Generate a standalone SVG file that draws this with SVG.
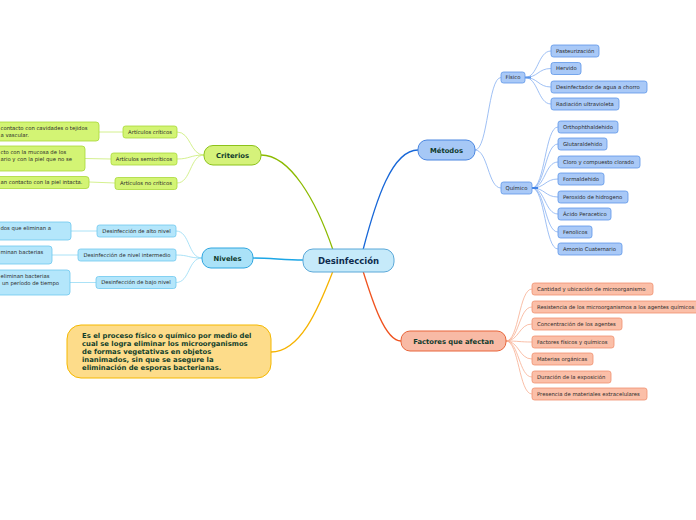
<svg xmlns="http://www.w3.org/2000/svg" width="696" height="520" viewBox="0 0 696 520">
<style>
text{font-family:"DejaVu Sans","Liberation Sans",sans-serif}
.lf{font-size:5.3px;fill:#2a2a2a}
.mt{font-size:6.8px;font-weight:bold;fill:#0f3b2c;text-anchor:middle}
.lime{fill:#d3f474;stroke:#a8d838;stroke-width:0.8}
.sky{fill:#b4e6fb;stroke:#6fc8ef;stroke-width:0.8}
.blu{fill:#a9c9f7;stroke:#5d96e8;stroke-width:0.8}
.sal{fill:#fbbfa8;stroke:#f0916f;stroke-width:0.8}
.lg{stroke:#c9ec72;stroke-width:0.8;fill:none}
.sg{stroke:#96daf5;stroke-width:0.8;fill:none}
.bg{stroke:#86b0f1;stroke-width:0.8;fill:none}
.og{stroke:#f8ae92;stroke-width:0.8;fill:none}
</style>
<rect width="696" height="520" fill="#ffffff"/>
<g id="connectors">
<path d="M363,250 C376,200 392,150 418,150" stroke="#1767d8" stroke-width="1.3" fill="none"/>
<path d="M333,250 C316,200 290,155 261,155" stroke="#8cba00" stroke-width="1.3" fill="none"/>
<path d="M303,260 C285,260 270,258 253,258" stroke="#1ca6e6" stroke-width="1.3" fill="none"/>
<path d="M333,271 C318,310 300,352 271,352" stroke="#f6b300" stroke-width="1.3" fill="none"/>
<path d="M363,271 C372,300 385,341 401,341" stroke="#f0531f" stroke-width="1.3" fill="none"/>
<path class="lg" d="M204,155 C190,155 191,132 177,132"/>
<path class="lg" d="M204,155 C190,155 190,159 177,159"/>
<path class="lg" d="M204,155 C190,155 191,183 177,183"/>
<path class="lg" d="M123,132 L99,132"/>
<path class="lg" d="M111,159 L85,158.5"/>
<path class="lg" d="M115,183 L89,182"/>
<path class="sg" d="M202,258 C188,258 190,231 176,231"/>
<path class="sg" d="M202,258 C188,258 189,255 176,255"/>
<path class="sg" d="M202,258 C188,258 190,282.5 176,282.5"/>
<path class="sg" d="M97,231 L71,231"/>
<path class="sg" d="M78,255 L52,255"/>
<path class="sg" d="M96,282.5 L70,282.5"/>
<path class="bg" d="M475,150 C488,150 488,77.5 501,77.5"/>
<path class="bg" d="M475,150 C488,150 488,188 501,188"/>
<path class="bg" d="M525,77.5 C538,77.5 538,51 551,51"/>
<path class="bg" d="M525,77.5 C538,77.5 538,68.5 551,68.5"/>
<path class="bg" d="M525,77.5 C538,77.5 538,87 551,87"/>
<path class="bg" d="M525,77.5 C538,77.5 538,104 551,104"/>
<path d="M525,77.5 L531,77.5" stroke="#5d96e8" stroke-width="2"/>
<path class="bg" d="M532,188 C545,188 545,127 558,127"/>
<path class="bg" d="M532,188 C545,188 545,144 558,144"/>
<path class="bg" d="M532,188 C545,188 545,162 558,162"/>
<path class="bg" d="M532,188 C545,188 545,179 558,179"/>
<path class="bg" d="M532,188 C545,188 545,197 558,197"/>
<path class="bg" d="M532,188 C545,188 545,214 558,214"/>
<path class="bg" d="M532,188 C545,188 545,232 558,232"/>
<path class="bg" d="M532,188 C545,188 545,249 558,249"/>
<path d="M532,188 L538,188" stroke="#3f82e6" stroke-width="2"/>
<path class="og" d="M506,341 C519,341 519,289 532,289"/>
<path class="og" d="M506,341 C519,341 519,307 532,307"/>
<path class="og" d="M506,341 C519,341 519,324 532,324"/>
<path class="og" d="M506,341 C519,341 519,342 532,342"/>
<path class="og" d="M506,341 C519,341 519,359 532,359"/>
<path class="og" d="M506,341 C519,341 519,377 532,377"/>
<path class="og" d="M506,341 C519,341 519,394 532,394"/>
</g>
<g id="n-desinfeccion"><rect x="303" y="249" width="91" height="23" rx="10" fill="#c6eafa" stroke="#5aa8d8" stroke-width="1"/><text x="348.5" y="263.8" font-size="8.5" font-weight="bold" fill="#0d2b4e" text-anchor="middle">Desinfección</text></g>
<g id="n-metodos"><rect x="418" y="140" width="57" height="20" rx="9" fill="#a6c8f6" stroke="#4a86e0" stroke-width="1"/><text class="mt" x="446.5" y="152.5">Métodos</text></g>
<g id="n-criterios"><rect x="204" y="145.5" width="57" height="19.5" rx="9" fill="#d5f27a" stroke="#8cc21a" stroke-width="1"/><text class="mt" x="232.5" y="157.8">Criterios</text></g>
<g id="n-niveles"><rect x="202" y="248" width="51" height="20" rx="9" fill="#aae2f8" stroke="#2fa6e0" stroke-width="1"/><text class="mt" x="227.5" y="260.5">Niveles</text></g>
<g id="n-factores"><rect x="401" y="331" width="105" height="20" rx="9" fill="#f8baa5" stroke="#e8653a" stroke-width="1"/><text class="mt" x="453.5" y="343.5">Factores que afectan</text></g>
<g id="n-descripcion"><rect x="67" y="325" width="204" height="53" rx="14" fill="#fddc8a" stroke="#f5b800" stroke-width="1"/>
<text font-size="6.85" font-weight="bold" fill="#123f2a"><tspan x="82" y="337.5">Es el proceso físico o químico por medio del</tspan><tspan x="82" y="345.5">cual se logra eliminar los microorganismos</tspan><tspan x="82" y="353.5">de formas vegetativas en objetos</tspan><tspan x="82" y="361.5">inanimados, sin que se asegure la</tspan><tspan x="82" y="369.5">eliminación de esporas bacterianas.</tspan></text></g>
<g id="n-criticos"><rect class="lime" x="123" y="126" width="54" height="12" rx="2.5"/><text class="lf" x="150" y="133.9" text-anchor="middle">Artículos críticos</text></g>
<g id="n-semicriticos"><rect class="lime" x="111" y="153" width="66" height="12" rx="2.5"/><text class="lf" x="144" y="160.9" text-anchor="middle">Artículos semicríticos</text></g>
<g id="n-nocriticos"><rect class="lime" x="115" y="177.5" width="62" height="12" rx="2.5"/><text class="lf" x="146" y="185.4" text-anchor="middle">Artículos no críticos</text></g>
<g id="n-criticos-leaf"><rect class="lime" x="-20" y="122" width="119" height="19" rx="3"/><text class="lf"><tspan x="0.5" y="130">contacto con cavidades o tejidos</tspan><tspan x="0.5" y="137">a vascular.</tspan></text></g>
<g id="n-semicriticos-leaf"><rect class="lime" x="-20" y="146" width="105" height="25" rx="3"/><text class="lf"><tspan x="0.5" y="154">cto con la mucosa de los</tspan><tspan x="0.5" y="161">ario y con la piel que no se</tspan></text></g>
<g id="n-nocriticos-leaf"><rect class="lime" x="-20" y="176.5" width="109" height="12" rx="3"/><text class="lf" x="0.5" y="184.4">an contacto con la piel intacta.</text></g>
<g id="n-alto"><rect class="sky" x="97" y="225" width="79" height="12" rx="2.5"/><text class="lf" x="136.5" y="232.9" text-anchor="middle">Desinfección de alto nivel</text></g>
<g id="n-intermedio"><rect class="sky" x="78" y="249" width="98" height="12" rx="2.5"/><text class="lf" x="127" y="256.9" text-anchor="middle">Desinfección de nivel intermedio</text></g>
<g id="n-bajo"><rect class="sky" x="96" y="276.5" width="80" height="12" rx="2.5"/><text class="lf" x="136" y="284.4" text-anchor="middle">Desinfección de bajo nivel</text></g>
<g id="n-alto-leaf"><rect class="sky" x="-20" y="222" width="91" height="18" rx="3"/><text class="lf" x="0.5" y="230">dos que eliminan a</text></g>
<g id="n-intermedio-leaf"><rect class="sky" x="-20" y="246" width="72" height="18" rx="3"/><text class="lf" x="0.5" y="254">minan bacterias</text></g>
<g id="n-bajo-leaf"><rect class="sky" x="-20" y="270" width="90" height="25" rx="3"/><text class="lf"><tspan x="0.5" y="278">eliminan bacterias</tspan><tspan x="2" y="285">un período de tiempo</tspan></text></g>
<g id="n-fisico"><rect class="blu" x="501" y="72" width="24" height="11" rx="2.5"/><text class="lf" x="513" y="79.4" text-anchor="middle">Físico</text></g>
<g id="n-quimico"><rect class="blu" x="501" y="182" width="31" height="12" rx="2.5"/><text class="lf" x="516.5" y="189.9" text-anchor="middle">Químico</text></g>
<g id="n-pasteurizacion"><rect class="blu" x="551" y="45" width="48" height="12" rx="2.5"/><text class="lf" x="556" y="52.9">Pasteurización</text></g>
<g id="n-hervido"><rect class="blu" x="551" y="62.5" width="30" height="12" rx="2.5"/><text class="lf" x="556" y="70.4">Hervido</text></g>
<g id="n-chorro"><rect class="blu" x="551" y="81" width="96" height="12" rx="2.5"/><text class="lf" x="556" y="88.9">Desinfectador de agua a chorro</text></g>
<g id="n-uv"><rect class="blu" x="551" y="98" width="68" height="12" rx="2.5"/><text class="lf" x="556" y="105.9">Radiación ultravioleta</text></g>
<g id="n-ortho"><rect class="blu" x="558" y="121" width="60" height="12" rx="2.5"/><text class="lf" x="563" y="128.9">Orthophthaldehido</text></g>
<g id="n-gluta"><rect class="blu" x="558" y="138" width="49" height="12" rx="2.5"/><text class="lf" x="563" y="145.9">Glutaraldehido</text></g>
<g id="n-cloro"><rect class="blu" x="558" y="156" width="82" height="12" rx="2.5"/><text class="lf" x="563" y="163.9">Cloro y compuesto clorado</text></g>
<g id="n-formal"><rect class="blu" x="558" y="173" width="46" height="12" rx="2.5"/><text class="lf" x="563" y="180.9">Formaldehido</text></g>
<g id="n-peroxido"><rect class="blu" x="558" y="191" width="70" height="12" rx="2.5"/><text class="lf" x="563" y="198.9">Peroxido de hidrogeno</text></g>
<g id="n-acido"><rect class="blu" x="558" y="208" width="53" height="12" rx="2.5"/><text class="lf" x="563" y="215.9">Ácido Peracetico</text></g>
<g id="n-fenolicos"><rect class="blu" x="558" y="226" width="34" height="12" rx="2.5"/><text class="lf" x="563" y="233.9">Fenolicos</text></g>
<g id="n-amonio"><rect class="blu" x="558" y="243" width="64" height="12" rx="2.5"/><text class="lf" x="563" y="250.9">Amonio Cuaternario</text></g>
<g id="n-cantidad"><rect class="sal" x="532" y="283" width="121" height="12" rx="2.5"/><text class="lf" x="537" y="290.9">Cantidad y ubicación de microorganismo</text></g>
<g id="n-resistencia"><rect class="sal" x="532" y="301" width="176" height="12" rx="2.5"/><text class="lf" x="537" y="308.9">Resistencia de los microorganismos a los agentes químicos</text></g>
<g id="n-concentracion"><rect class="sal" x="532" y="318" width="90" height="12" rx="2.5"/><text class="lf" x="537" y="325.9">Concentración de los agentes</text></g>
<g id="n-fisicos"><rect class="sal" x="532" y="336" width="82" height="12" rx="2.5"/><text class="lf" x="537" y="343.9">Factores físicos y químicos</text></g>
<g id="n-materias"><rect class="sal" x="532" y="353" width="61" height="12" rx="2.5"/><text class="lf" x="537" y="360.9">Materias orgánicas</text></g>
<g id="n-duracion"><rect class="sal" x="532" y="371" width="79" height="12" rx="2.5"/><text class="lf" x="537" y="378.9">Duración de la exposición</text></g>
<g id="n-presencia"><rect class="sal" x="532" y="388" width="115" height="12" rx="2.5"/><text class="lf" x="537" y="395.9">Presencia de materiales extracelulares</text></g>
</svg>
